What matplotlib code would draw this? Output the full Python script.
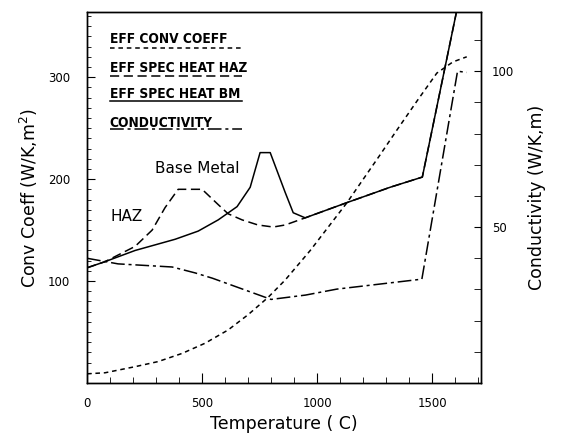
import matplotlib
matplotlib.use('Agg')
import matplotlib.pyplot as plt
from matplotlib.ticker import MultipleLocator

# temperature (C) and values
temp_bm = [0, 78, 209, 383, 483, 570, 652, 709, 752, 796, 861, 896, 948, 1130, 1317, 1457, 1620]
cp_bm = [113, 119, 130, 141, 149, 160, 173, 192, 226, 226, 187, 167, 162, 177, 192, 202, 380]

temp_haz = [0, 78, 209, 283, 339, 396, 500, 570, 613, 674, 743, 809, 861, 948, 1130, 1317, 1457, 1620]
cp_haz = [113, 119, 134, 150, 172, 190, 190, 175, 166, 160, 155, 153, 155, 162, 177, 192, 202, 380]

temp_h = [0, 78, 209, 309, 413, 513, 613, 700, 787, 861, 970, 1130, 1274, 1340, 1435, 1520, 1590, 1650]
h_conv = [9, 10, 16, 21, 29, 39, 52, 67, 84, 101, 130, 177, 224, 246, 277, 304, 315, 320]

temp_k = [0, 135, 370, 470, 545, 800, 950, 1085, 1455, 1610, 1650]
k_cond = [40, 38.2, 37.2, 35.3, 33.6, 26.8, 28.2, 30.1, 33.3, 100, 99.6]

legend_labels = ['EFF CONV COEFF', 'EFF SPEC HEAT HAZ', 'EFF SPEC HEAT BM', 'CONDUCTIVITY']

plt.rcParams['font.family'] = ['DejaVu Sans']

fig = plt.figure(figsize=(5.74, 4.36), dpi=100)
ax = fig.add_axes([0.1516, 0.1216, 0.6864, 0.851])
ax2 = ax.twinx()

lw = 1.1
ls_conv = (0, (3, 2.5))
ls_haz = (0, (6, 3))
ls_bm = '-'
ls_k = (0, (9, 2.5, 2, 2.5))

ax.plot(temp_h, h_conv, color='black', lw=lw, linestyle=ls_conv)
ax.plot(temp_haz, cp_haz, color='black', lw=lw, linestyle=ls_haz)
ax.plot(temp_bm, cp_bm, color='black', lw=lw, linestyle=ls_bm)
ax2.plot(temp_k, k_cond, color='black', lw=lw, linestyle=ls_k)

ax.set_xlim(0, 1712)
ax.set_ylim(0, 364)
ax2.set_ylim(0, 119)

ax.xaxis.set_major_locator(MultipleLocator(500))
ax.xaxis.set_minor_locator(MultipleLocator(100))
ax.yaxis.set_major_locator(MultipleLocator(100))
ax.yaxis.set_minor_locator(MultipleLocator(10))
ax2.yaxis.set_major_locator(MultipleLocator(50))
ax2.yaxis.set_minor_locator(MultipleLocator(10))

ax.tick_params(axis='x', which='major', direction='in', length=7, labelsize=8.5, pad=10)
ax.tick_params(axis='x', which='minor', direction='in', length=4)
ax.tick_params(axis='y', which='major', direction='in', length=6, labelsize=8.5, pad=12)
ax.tick_params(axis='y', which='minor', direction='in', length=3)
ax2.tick_params(axis='y', which='major', direction='in', length=5, labelsize=8.5, pad=8)
ax2.tick_params(axis='y', which='minor', direction='in', length=5)
ax.tick_params(top=False)

ax.set_yticks([100, 200, 300])
ax2.set_yticks([50, 100])

ax.set_xlabel('Temperature ( C)', fontsize=12.5, labelpad=4)
ax.set_ylabel('Conv Coeff (W/K,m$^2$)', fontsize=12.5, labelpad=6)
ax2.set_ylabel('Conductivity (W/K,m)', fontsize=12.5, labelpad=10)

for a in (ax, ax2):
    for s in a.spines.values():
        s.set_linewidth(1.0)

# legend drawn as underlined labels
text_y = [0.916, 0.838, 0.768, 0.690]
line_y = [0.904, 0.828, 0.760, 0.685]
styles = [ls_conv, ls_haz, ls_bm, ls_k]
for lab, ty, ly, st in zip(legend_labels, text_y, line_y, styles):
    ax.text(0.058, ty, lab, transform=ax.transAxes, fontsize=9.8, fontweight='bold',
            fontstretch='condensed', va='baseline', ha='left')
    ax.plot([0.058, 0.393], [ly, ly], transform=ax.transAxes, color='black',
            lw=lw, linestyle=st)

ax.text(478, 210, 'Base Metal', fontsize=11, ha='center', va='center')
ax.text(174, 163, 'HAZ', fontsize=11, ha='center', va='center')

fig.savefig('out.png', dpi=100)
